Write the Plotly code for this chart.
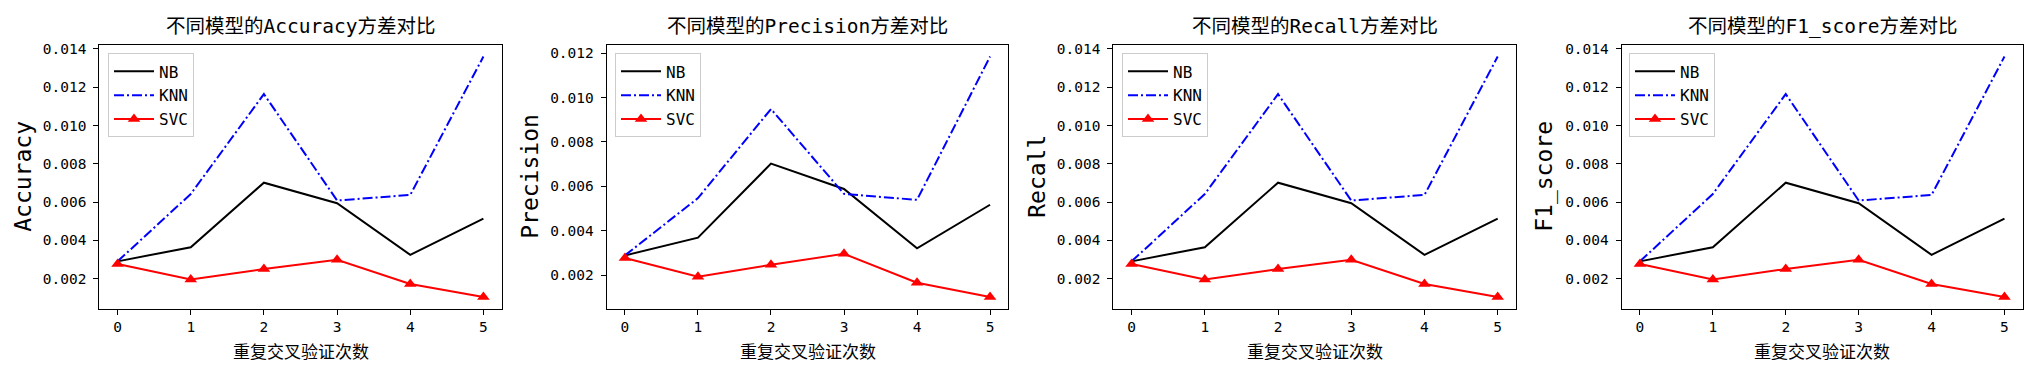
import plotly.graph_objects as go

x_rounds = [0, 1, 2, 3, 4, 5]
models = ["NB", "KNN", "SVC"]
metrics = ["Accuracy", "Precision", "Recall", "F1_score"]

acc_nb = [0.00290, 0.00364, 0.00701, 0.00594, 0.00324, 0.00513]
acc_knn = [0.00290, 0.00642, 0.01164, 0.00608, 0.00637, 0.01360]
acc_svc = [0.00276, 0.00195, 0.00250, 0.00298, 0.00172, 0.00104]

prec_nb = [0.00289, 0.00369, 0.00702, 0.00588, 0.00321, 0.00517]
prec_knn = [0.00289, 0.00547, 0.00948, 0.00566, 0.00539, 0.01184]
prec_svc = [0.00277, 0.00193, 0.00247, 0.00296, 0.00166, 0.00102]

rec_nb = [0.00290, 0.00364, 0.00701, 0.00594, 0.00324, 0.00513]
rec_knn = [0.00290, 0.00642, 0.01164, 0.00608, 0.00637, 0.01360]
rec_svc = [0.00276, 0.00195, 0.00250, 0.00298, 0.00172, 0.00104]

f1_nb = [0.00290, 0.00364, 0.00701, 0.00594, 0.00324, 0.00513]
f1_knn = [0.00290, 0.00642, 0.01164, 0.00608, 0.00637, 0.01360]
f1_svc = [0.00276, 0.00195, 0.00250, 0.00298, 0.00172, 0.00104]

yticks = {
    "Accuracy": [0.002, 0.004, 0.006, 0.008, 0.010, 0.012, 0.014],
    "Precision": [0.002, 0.004, 0.006, 0.008, 0.010, 0.012],
    "Recall": [0.002, 0.004, 0.006, 0.008, 0.010, 0.012, 0.014],
    "F1_score": [0.002, 0.004, 0.006, 0.008, 0.010, 0.012, 0.014],
}

series = {
    "Accuracy": (acc_nb, acc_knn, acc_svc),
    "Precision": (prec_nb, prec_knn, prec_svc),
    "Recall": (rec_nb, rec_knn, rec_svc),
    "F1_score": (f1_nb, f1_knn, f1_svc),
}

W, H = 2035, 371
boxes = [(99.3, 501.7), (606.7, 1008.3), (1113.3, 1516.0), (1621.7, 2022.7)]
top_px, bot_px = 41.0, 308.3
ylab_px = [23, 530, 1037, 1545]
legend_px = [(108, 50), (615, 50), (1122, 50), (1629, 50)]

CJK = "Noto Sans CJK SC"
MONO = "DejaVu Sans Mono, Noto Sans CJK SC"
styles = [
    dict(color="black", width=2, dash="solid"),
    dict(color="blue", width=2, dash="10px,3px,2px,3px"),
    dict(color="red", width=2, dash="solid"),
]

fig = go.Figure()
layout = dict(
    width=W, height=H, margin=dict(l=0, r=0, t=0, b=0),
    paper_bgcolor="white", plot_bgcolor="white", showlegend=True,
)
annotations = []

for i, m in enumerate(metrics):
    k = "" if i == 0 else str(i + 1)
    xa, ya = "x" + k, "y" + k
    lg = "legend" + k
    vals = series[m]
    allv = [v for s in vals for v in s]
    lo, hi = min(allv), max(allv)
    pad = (hi - lo) * 0.05
    for j, name in enumerate(models):
        tr = dict(
            x=x_rounds, y=vals[j], name=name, xaxis=xa, yaxis=ya, legend=lg,
            line=styles[j],
        )
        if name == "SVC":
            tr["mode"] = "lines+markers"
            tr["marker"] = dict(symbol="triangle-up", size=11, color="red")
        else:
            tr["mode"] = "lines"
        fig.add_trace(go.Scatter(**tr))

    l, r = boxes[i]
    common = dict(
        ticks="outside", ticklen=5, tickcolor="black", tickwidth=1,
        showline=True, linecolor="black", linewidth=1, mirror=True,
        showgrid=False, zeroline=False,
        tickfont=dict(family=MONO, size=14.5, color="black"),
    )
    layout["xaxis" + k] = dict(
        domain=[l / W, r / W], anchor=ya, range=[-0.25, 5.25],
        tickmode="array", tickvals=x_rounds, ticktext=[str(v) for v in x_rounds],
        **common,
    )
    layout["yaxis" + k] = dict(
        domain=[1 - bot_px / H, 1 - top_px / H], anchor=xa,
        range=[lo - pad, hi + pad],
        tickmode="array", tickvals=yticks[m],
        ticktext=["%.3f" % v for v in yticks[m]],
        ticklabelstandoff=4,
        **common,
    )
    lx, ly = legend_px[i]
    layout[lg] = dict(
        x=lx / W, y=1 - ly / H, xanchor="left", yanchor="top",
        bgcolor="white", bordercolor="#cccccc", borderwidth=1,
        font=dict(family=MONO, size=16, color="black"),
        tracegroupgap=0, itemwidth=40,
    )
    cx = (l + r) / 2 / W
    annotations.append(dict(
        text="不同模型的" + m + "方差对比", x=cx, y=1 - 23 / H,
        xref="paper", yref="paper", showarrow=False,
        font=dict(family=MONO, size=19.5, color="black"),
        xanchor="center", yanchor="middle",
    ))
    annotations.append(dict(
        text="重复交叉验证次数", x=cx, y=1 - 350 / H,
        xref="paper", yref="paper", showarrow=False,
        font=dict(family=CJK, size=17, color="black"),
        xanchor="center", yanchor="middle",
    ))
    annotations.append(dict(
        text=m, x=ylab_px[i] / W, y=1 - ((top_px + bot_px) / 2) / H,
        xref="paper", yref="paper", showarrow=False, textangle=-90,
        font=dict(family="DejaVu Sans Mono", size=23, color="black"),
        xanchor="center", yanchor="middle",
    ))

layout["annotations"] = annotations
fig.update_layout(**layout)
fig.write_html(
    "out.html",
    config={"displayModeBar": False},
    post_script="document.body.style.margin='0';document.body.style.overflow='hidden';",
)
